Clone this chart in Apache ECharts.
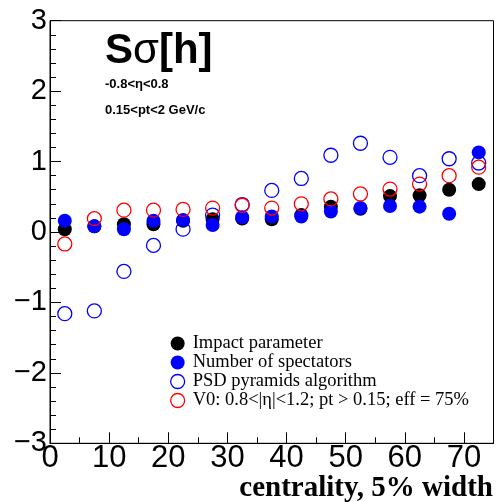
<!DOCTYPE html>
<html>
<head>
<meta charset="utf-8">
<script src="https://cdn.jsdelivr.net/npm/echarts@6/dist/echarts.min.js"></script>
<style>
html,body{margin:0;padding:0;background:#fff;}
#c{width:497px;height:502px;}
</style>
</head>
<body>
<div id="c"></div>
<script>
// centrality bin centres (5% width)
const centrality = [2.5, 7.5, 12.5, 17.5, 22.5, 27.5, 32.5, 37.5, 42.5, 47.5, 52.5, 57.5, 62.5, 67.5, 72.5];
// S sigma[h] values
const impactParameter = [0.04, 0.08, 0.11, 0.11, 0.16, 0.18, 0.19, 0.18, 0.24, 0.36, 0.33, 0.51, 0.52, 0.60, 0.68];
const numberOfSpectators = [0.16, 0.08, 0.04, 0.16, 0.17, 0.10, 0.21, 0.22, 0.22, 0.29, 0.34, 0.37, 0.36, 0.26, 1.13];
const psdPyramids = [-1.16, -1.12, -0.56, -0.19, 0.04, 0.24, 0.39, 0.59, 0.76, 1.09, 1.26, 1.06, 0.80, 1.04, 0.98];
const v0 = [-0.17, 0.19, 0.31, 0.31, 0.32, 0.34, 0.38, 0.34, 0.40, 0.47, 0.54, 0.61, 0.68, 0.80, 0.92];

const seriesNames = ['Impact parameter', 'Number of spectators', 'PSD pyramids algorithm', 'V0: 0.8<|\u03b7|<1.2; pt > 0.15; eff = 75%'];

function pts(vals){ return centrality.map((x,i)=>[x, vals[i]]); }

const chart = echarts.init(document.getElementById('c'), null, {renderer:'canvas'});
const sansF = '"Liberation Sans", Arial, Helvetica, sans-serif';
const serifF = '"Liberation Serif", "Times New Roman", serif';

const filled = (c)=>({color:c, borderWidth:0, opacity:1});
const open = (c)=>({color:'transparent', borderColor:c, borderWidth:1.3, opacity:1});

chart.setOption({
  animation:false,
  backgroundColor:'#fff',
  grid:{left:50, right:3.5, top:20.7, bottom:58.7, show:true, borderColor:'#000', borderWidth:1, backgroundColor:'transparent'},
  xAxis:{
    type:'value', min:0, max:75, interval:10,
    axisLine:{onZero:false, lineStyle:{color:'#000', width:1}},
    axisTick:{inside:true, length:11, lineStyle:{color:'#000'}},
    minorTick:{show:true, splitNumber:2, length:6, lineStyle:{color:'#000'}},
    splitLine:{show:false},
    axisLabel:{color:'#000', fontSize:31, fontFamily:sansF, margin:0, showMaxLabel:false}
  },
  yAxis:{
    type:'value', min:-3, max:3, interval:1,
    axisLine:{onZero:false, lineStyle:{color:'#000', width:1}},
    axisTick:{inside:true, length:11, lineStyle:{color:'#000'}},
    minorTick:{show:true, splitNumber:5, length:6, lineStyle:{color:'#000'}},
    splitLine:{show:false},
    axisLabel:{color:'#000', fontSize:29, fontFamily:sansF, margin:3,
      formatter:(v)=> v<0 ? '\u2212'+Math.abs(v) : String(v)}
  },
  legend:{
    orient:'vertical', left:170, top:334, padding:0, itemGap:0, itemWidth:14, itemHeight:14,
    icon:'circle',
    textStyle:{fontFamily:serifF, fontSize:18.5, color:'#000', lineHeight:17, padding:[0,0,0,3]},
    data:[
      {name:seriesNames[0], itemStyle:filled('#000')},
      {name:seriesNames[1], itemStyle:filled('#0000ff')},
      {name:seriesNames[2], itemStyle:open('#0000ff')},
      {name:seriesNames[3], itemStyle:open('#ff0000')}
    ]
  },
  series:[
    {name:seriesNames[0], type:'scatter', symbol:'circle', symbolSize:14, data:pts(impactParameter), itemStyle:filled('#000')},
    {name:seriesNames[1], type:'scatter', symbol:'circle', symbolSize:14, data:pts(numberOfSpectators), itemStyle:filled('#0000ff')},
    {name:seriesNames[2], type:'scatter', symbol:'circle', symbolSize:14, data:pts(psdPyramids), itemStyle:open('#0000ff')},
    {name:seriesNames[3], type:'scatter', symbol:'circle', symbolSize:14, data:pts(v0), itemStyle:open('#ff0000')}
  ],
  graphic:[
    {type:'text', left:105, top:30, style:{
      text:'{b|S}{s|\u03c3}{b|[h]}',
      rich:{
        b:{fontFamily:sansF, fontWeight:'bold', fontSize:42, fill:'#000'},
        s:{fontFamily:sansF, fontWeight:'normal', fontSize:42, fill:'#000'}
      }}},
    {type:'text', left:105, top:78, style:{text:'-0.8<\u03b7<0.8', font:'bold 13px '+sansF, fill:'#000'}},
    {type:'text', left:105, top:104, style:{text:'0.15<pt<2 GeV/c', font:'bold 13px '+sansF, fill:'#000'}},
    {type:'text', right:4, top:474, style:{text:'centrality, 5% width', font:'bold 29px '+serifF, fill:'#000'}}
  ]
});
</script>
</body>
</html>
